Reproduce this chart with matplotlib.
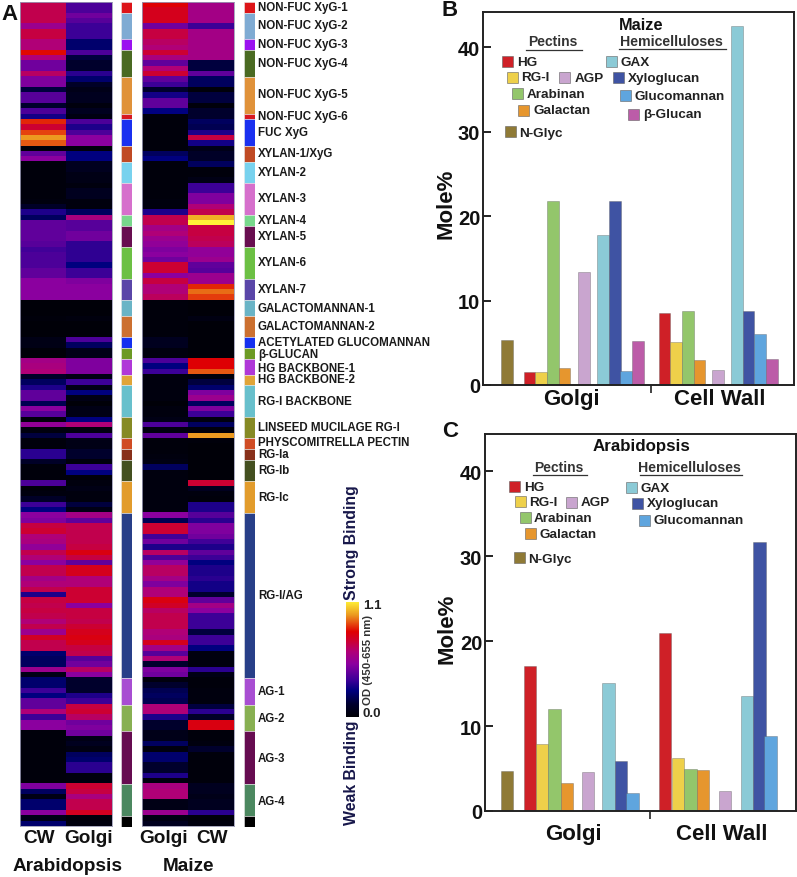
import matplotlib
matplotlib.use("Agg")
from matplotlib import pyplot as plt
from matplotlib.colors import LinearSegmentedColormap
from matplotlib.patches import Rectangle
import numpy as np

W, H = 797, 878
plt.rcParams["font.family"] = ["Liberation Sans", "DejaVu Sans"]
plt.rcParams["font.weight"] = "bold"

# --- panel A values, OD ---
arab_cw = [.68, .68, .68, .68, .55, .70, .70, .62, .62, .82, .62, .45, .45, .65, .48, .48, .15, .40, .40, .12,
           .38, .28, .85, .72, .88, .97, .90, .02, .42, .50, .02, .02, .02, .02, .02, .02, .02, .03, .10, .30,
           .20, .42, .42, .42, .42, .40, .36, .38, .38, .38, .42, .42, .50, .50, .50, .50, .01, .01, .01, .02,
           .01, .01, .01, .05, .05, .01, .01, .58, .60, .62, .10, .20, .30, .42, .42, .18, .50, .40, .02, .52,
           .03, .15, .02, .02, .32, .32, .10, .02, .02, .02, .38, .02, .03, .10, .35, .25, .50, .48, .70, .72,
           .62, .60, .52, .68, .62, .50, .68, .68, .58, .62, .68, .30, .70, .68, .70, .68, .62, .68, .55, .74,
           .68, .68, .22, .20, .20, .55, .05, .22, .22, .35, .25, .42, .42, .62, .35, .50, .50, .02, .02, .02,
           .02, .02, .02, .02, .02, .02, .02, .48, .20, .05, .22, .22, .50, .06, .22]
arab_golgi = [.38, .38, .45, .40, .35, .35, .35, .22, .22, .38, .15, .12, .12, .32, .22, .10, .06, .08, .08, .03,
              .08, .04, .38, .30, .38, .50, .50, .02, .25, .25, .08, .08, .05, .05, .03, .08, .08, .03, .03, .20,
              .60, .40, .40, .45, .45, .33, .33, .33, .33, .25, .35, .35, .48, .50, .50, .50, .01, .01, .01, .03,
              .01, .01, .01, .38, .20, .06, .06, .48, .48, .48, .05, .35, .05, .25, .05, .01, .05, .05, .25, .62,
              .03, .38, .05, .05, .12, .12, .02, .35, .25, .02, .03, .05, .03, .03, .15, .05, .58, .42, .68, .68,
              .68, .68, .70, .78, .70, .42, .76, .76, .62, .62, .72, .72, .72, .50, .70, .70, .68, .72, .76, .78,
              .76, .70, .68, .40, .45, .65, .50, .12, .12, .12, .30, .35, .70, .72, .65, .45, .48, .45, .05, .08,
              .04, .20, .22, .32, .32, .03, .03, .72, .70, .60, .68, .68, .75, .02, .03]
maize_golgi = [.80, .76, .76, .76, .45, .70, .70, .65, .62, .72, .60, .42, .62, .72, .42, .35, .12, .28, .42, .42,
               .25, .02, .02, .02, .02, .02, .02, .02, .20, .25, .02, .02, .02, .02, .02, .02, .02, .03, .03, .30,
               .68, .68, .58, .62, .55, .52, .48, .50, .45, .72, .72, .50, .70, .62, .62, .66, .02, .02, .02, .02,
               .02, .02, .02, .08, .08, .03, .03, .38, .25, .35, .03, .03, .03, .03, .03, .01, .03, .03, .05, .38,
               .03, .42, .02, .02, .02, .03, .04, .20, .03, .03, .03, .03, .03, .03, .03, .03, .50, .18, .72, .72,
               .36, .45, .30, .65, .38, .52, .65, .65, .58, .48, .62, .62, .78, .74, .65, .68, .68, .68, .62, .60,
               .76, .58, .40, .62, .12, .48, .45, .03, .12, .18, .20, .18, .62, .62, .30, .12, .12, .06, .06, .20,
               .03, .22, .22, .12, .12, .30, .03, .60, .62, .62, .05, .05, .55, .04, .08]
maize_cw = [.58, .58, .58, .58, .35, .58, .58, .58, .58, .58, .58, .15, .15, .42, .20, .20, .02, .15, .15, .02,
            .12, .12, .20, .18, .30, .70, .28, .06, .10, .10, .20, .02, .02, .05, .35, .35, .48, .48, .62, .68,
            1.0, 1.1, .70, .70, .68, .66, .52, .52, .55, .42, .40, .55, .55, .85, .92, .87, .01, .01, .01, .04,
            .01, .01, .01, .01, .01, .01, .01, .80, .80, .90, .02, .15, .22, .48, .55, .20, .48, .35, .03, .20,
            .02, .97, .02, .01, .01, .01, .01, .01, .01, .01, .72, .08, .03, .02, .30, .30, .40, .32, .48, .48,
            .45, .36, .30, .42, .35, .25, .30, .30, .32, .28, .28, .12, .42, .58, .50, .35, .35, .35, .15, .35,
            .35, .25, .03, .03, .03, .32, .05, .02, .02, .03, .03, .03, .15, .32, .10, .78, .78, .02, .02, .03,
            .12, .02, .02, .02, .02, .02, .02, .08, .08, .06, .08, .08, .32, .02, .03]

group_names = ["NON-FUC XyG-1", "NON-FUC XyG-2", "NON-FUC XyG-3", "NON-FUC XyG-4", "NON-FUC XyG-5", "NON-FUC XyG-6",
               "FUC XyG", "XYLAN-1/XyG", "XYLAN-2", "XYLAN-3", "XYLAN-4", "XYLAN-5", "XYLAN-6", "XYLAN-7",
               "GALACTOMANNAN-1", "GALACTOMANNAN-2", "ACETYLATED GLUCOMANNAN", "β-GLUCAN", "HG BACKBONE-1",
               "HG BACKBONE-2", "RG-I BACKBONE", "LINSEED MUCILAGE RG-I", "PHYSCOMITRELLA PECTIN", "RG-Ia", "RG-Ib",
               "RG-Ic", "RG-I/AG", "AG-1", "AG-2", "AG-3", "AG-4", ""]
group_rows = [2, 5, 2, 5, 7, 1, 5, 3, 4, 6, 2, 4, 6, 4, 3, 4, 2, 2, 3, 2, 6, 4, 2, 2, 4, 6, 31, 5, 5, 10, 6, 2]
group_colors = ["#dd1418", "#7fabd3", "#9b12f0", "#4a6a22", "#e0923a", "#d81820", "#1a30f0", "#c04a24", "#78d2ee",
                "#d670cc", "#78d88c", "#680e50", "#6cc044", "#5a46a8", "#6ab4c6", "#cc7030", "#1430f0", "#6c9a24",
                "#b038d8", "#e0a438", "#68c0cc", "#868a24", "#d04c24", "#88301a", "#445020", "#e29c2c", "#283f88",
                "#a84ed2", "#88b052", "#660c50", "#4c8860", "#000000"]
group_label_y = [8, 26, 45, 64, 95, 117, 133, 154, 173, 199, 221, 237, 263, 290, 309, 327, 343, 355, 369, 380, 402,
                 428, 443, 455, 471, 498, 596, 692, 719, 759, 802]

# --- panels B and C ---
series_b = ["N-Glyc", "HG", "RG-I", "Arabinan", "Galactan", "AGP", "GAX", "Xyloglucan", "Glucomannan", "β-Glucan"]
maize_golgi_pct = [5.3, 1.55, 1.5, 21.8, 2.0, 13.4, 17.8, 21.8, 1.7, 5.2]
maize_wall_pct = [8.5, 5.1, 8.8, 3.0, 1.8, 42.5, 8.8, 6.1, 3.1]

series_c = ["N-Glyc", "HG", "RG-I", "Arabinan", "Galactan", "AGP", "GAX", "Xyloglucan", "Glucomannan"]
arab_golgi_pct = [4.75, 17.1, 7.86, 12.0, 3.26, 4.56, 15.1, 5.93, 2.16]
arab_wall_pct = [21.0, 6.2, 5.0, 4.87, 2.3, 13.6, 31.7, 8.8]

y_ticks = [0, 10, 20, 30, 40]

colors = {"N-Glyc": "#8f7a36", "HG": "#cf2027", "RG-I": "#eed04a", "Arabinan": "#93c66b", "Galactan": "#e6962e",
          "AGP": "#c9a5cf", "GAX": "#8bcad6", "Xyloglucan": "#3f53a3", "Glucomannan": "#5fa5de",
          "β-Glucan": "#bc5ca8"}

od_cmap = LinearSegmentedColormap.from_list("od", [
    (0.0, "#000006"), (.12 / 1.1, "#00002e"), (.25 / 1.1, "#00007f"), (.35 / 1.1, "#3d0098"), (.5 / 1.1, "#8b00a0"),
    (.62 / 1.1, "#b00078"), (.72 / 1.1, "#cc0033"), (.81 / 1.1, "#e00000"), (.97 / 1.1, "#ec9a20"), (1.0, "#fff238")])


def box(l, t, r, b):
    # pixel box to figure fraction
    return [l / W, 1 - b / H, (r - l) / W, (b - t) / H]


def zx(x, off=430):
    return off + x / 3


def zy(y, off=0):
    return off + y / 3


fig = plt.figure(figsize=(W / 100, H / 100), dpi=100)

# --- heatmaps ---
HEAT_TOP, HEAT_BOT = 3, 827
for l, r, cols in [(20, 112, (arab_cw, arab_golgi)), (142, 234, (maize_golgi, maize_cw))]:
    ax = fig.add_axes(box(l, HEAT_TOP, r, HEAT_BOT))
    ax.imshow(np.array(cols).T, cmap=od_cmap, vmin=0, vmax=1.1, aspect="auto", interpolation="nearest")
    ax.set_xticks([])
    ax.set_yticks([])
    for s in ax.spines.values():
        s.set_color("#9a9ab4")
        s.set_linewidth(0.6)

for l, r in [(121, 132), (244, 255)]:
    ax = fig.add_axes(box(l, HEAT_TOP, r, HEAT_BOT + 1))
    ax.bar(0, group_rows, bottom=np.cumsum([0] + group_rows[:-1]), width=1, color=group_colors,
           edgecolor="#e8e8e8", linewidth=0.4)
    ax.set_xlim(-.5, .5)
    ax.set_ylim(sum(group_rows), 0)
    ax.axis("off")

# colorbar
cax = fig.add_axes(box(346, 603, 359, 718))
cax.imshow(np.linspace(1.1, 0, 256)[:, None], cmap=od_cmap, vmin=0, vmax=1.1, aspect="auto")
cax.axis("off")

# --- bar panels ---
slots_b_golgi = [0, 1.94, 2.94, 3.94, 4.94, 6.6, 8.23, 9.23, 10.2, 11.2]
slots_b_wall = [13.49, 14.5, 15.5, 16.5, 18.1, 19.7, 20.7, 21.7, 22.7]
slots_c_golgi = [0, 1.86, 2.86, 3.86, 4.9, 6.57, 8.24, 9.24, 10.2]
slots_c_wall = [12.84, 13.86, 14.9, 15.9, 17.7, 19.5, 20.5, 21.4]


def bar_panel(rect, names, golgi, wall, slot_g, slot_w, xlim, ylim_top, tick_x):
    ax = fig.add_axes(box(*rect))
    ax.bar(slot_g, golgi, width=1, color=[colors[n] for n in names], edgecolor="#55555577", linewidth=0.5)
    ax.bar(slot_w, wall, width=1, color=[colors[n] for n in names[1:]], edgecolor="#55555577", linewidth=0.5)
    ax.set_xlim(*xlim)
    ax.set_ylim(0, ylim_top)
    ax.set_yticks(y_ticks)
    ax.set_xticks([tick_x])
    ax.set_xticklabels([""])
    ax.tick_params(axis="y", direction="in", length=5.8, width=1.3, labelsize=14.5, pad=2, colors="#111111")
    ax.tick_params(axis="x", direction="out", length=6, width=1.2, color="#222222")
    for s in ax.spines.values():
        s.set_color("#222222")
        s.set_linewidth(1.4)
    return ax


bar_panel((483, 13, 794, 386), series_b, maize_golgi_pct, maize_wall_pct, slots_b_golgi, slots_b_wall,
          (-2.06, 24.6), 44.2, 12.34)
bar_panel((485, 435, 796, 812), series_c, arab_golgi_pct, arab_wall_pct, slots_c_golgi, slots_c_wall,
          (-1.78, 23.46), 44.4, 11.62)

# --- overlay in pixel coordinates for all free text and the legend swatches ---
ov = fig.add_axes([0, 0, 1, 1], zorder=10)
ov.set_xlim(0, W)
ov.set_ylim(H, 0)
ov.axis("off")
ov.patch.set_alpha(0)


def label(x, y, s, size, ha="left", color="#111111", rotation=0):
    ov.text(x, y, s, fontsize=size, ha=ha, va="center", color=color, rotation=rotation, rotation_mode="anchor")


def swatch(x0, y0, name, tx, ty, xoff, yoff):
    ov.add_patch(Rectangle((zx(x0), zy(y0, yoff)), 11, 11, facecolor=colors[name], edgecolor="#66666699", lw=0.7))
    label(zx(tx), zy(ty, yoff), name, 9.7, color="#222222")


for name, y in zip(group_names, group_label_y):
    label(258, y, name, 8.3, color="#1a1a1a")

label(1, 14, "A", 16)
label(zx(36), zy(32), "B", 16)
label(zx(36), zy(35, 420), "C", 16)

for x, s in [(39, "CW"), (89, "Golgi"), (164, "Golgi"), (212, "CW")]:
    label(x, 839, s, 13.7, ha="center")
for x, s in [(68, "Arabidopsis"), (189, "Maize")]:
    label(x, 867, s, 13.7, ha="center")

label(352, 600, "Strong Binding", 11.4, color="#17174a", rotation=90)
label(352, 825, "Weak Binding", 11.4, color="#17174a", rotation=90)
label(363, 606, "1.1", 9.5, color="#222222")
label(363, 714, "0.0", 9.5, color="#222222")
ov.text(368, 660, "OD (450-655 nm)", fontsize=8.2, ha="center", va="center", rotation=90, color="#333333")

# panel B legend
for args in [(215, 172, "HG", 260, 188), (231, 219, "RG-I", 274, 235), (388, 218, "AGP", 433, 237),
             (246, 268, "Arabinan", 289, 285), (263, 318, "Galactan", 310, 334), (224, 380, "N-Glyc", 268, 401),
             (527, 172, "GAX", 572, 189), (548, 220, "Xyloglucan", 593, 238), (569, 274, "Glucomannan", 614, 290),
             (595, 330, "β-Glucan", 638, 346)]:
    swatch(*args, 430, 0)
label(zx(633), zy(76), "Maize", 11.8, ha="center")
label(zx(367), zy(126), "Pectins", 10, ha="center", color="#333333")
label(zx(725), zy(125), "Hemicelluloses", 10.2, ha="center", color="#333333")
ov.plot([zx(287), zx(455)], [zy(152)] * 2, color="#333333", lw=0.9)
ov.plot([zx(567), zx(888)], [zy(151)] * 2, color="#333333", lw=0.9)
label(zx(425), zy(1200), "Golgi", 16, ha="center")
label(zx(870), zy(1200), "Cell Wall", 16, ha="center")
ov.text(zx(47), zy(610), "Mole%", fontsize=16, ha="center", va="center", rotation=90, color="#111111")

# panel C legend
for args in [(238, 187, "HG", 282, 203), (254, 232, "RG-I", 296, 249), (408, 233, "AGP", 452, 250),
             (269, 280, "Arabinan", 311, 296), (286, 328, "Galactan", 330, 344), (253, 399, "N-Glyc", 295, 419),
             (587, 188, "GAX", 632, 206), (607, 236, "Xyloglucan", 651, 253), (626, 287, "Glucomannan", 671, 303)]:
    swatch(*args, 430, 420)
label(zx(634), zy(80, 420), "Arabidopsis", 12.2, ha="center")
label(zx(387), zy(143, 420), "Pectins", 10, ha="center", color="#333333")
label(zx(779), zy(143, 420), "Hemicelluloses", 10.2, ha="center", color="#333333")
ov.plot([zx(310), zx(470)], [zy(168, 420)] * 2, color="#333333", lw=0.9)
ov.plot([zx(630), zx(935)], [zy(168, 420)] * 2, color="#333333", lw=0.9)
label(zx(430), zy(1243, 420), "Golgi", 16, ha="center")
label(zx(875), zy(1243, 420), "Cell Wall", 16, ha="center")
ov.text(zx(50), zy(625, 420), "Mole%", fontsize=16, ha="center", va="center", rotation=90, color="#111111")

fig.savefig("out.png", dpi=100)
